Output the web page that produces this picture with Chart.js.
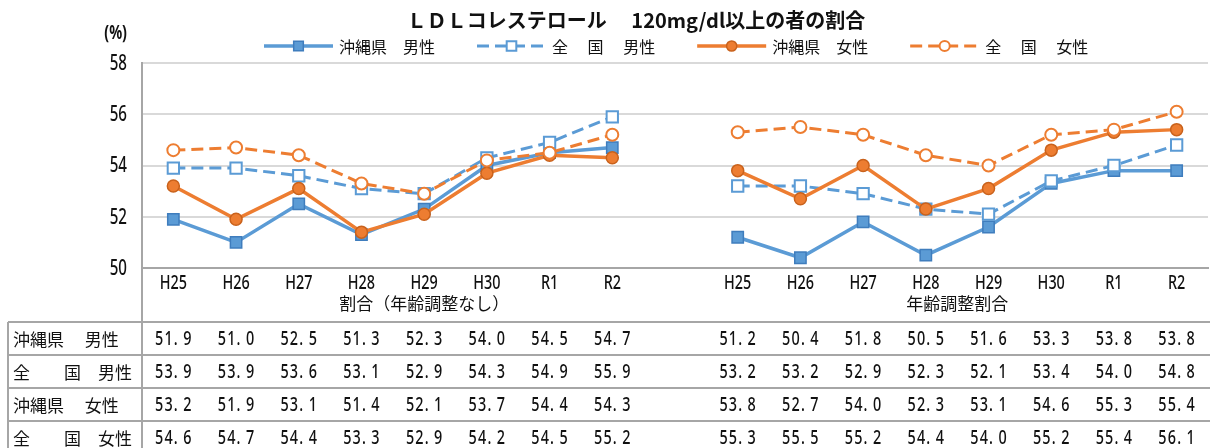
<!DOCTYPE html>
<html>
<head>
<meta charset="utf-8">
<script src="https://cdn.jsdelivr.net/npm/chart.js@4.4.0/dist/chart.umd.min.js"></script>
<style>
   html, body { margin: 0; padding: 0; background: #fff; overflow: hidden; }
   .wrapper { width: 1218px; height: 448px; }
</style>
</head>
<body>
<div class="wrapper"><canvas id="ldlChart" width="1218" height="448"></canvas></div>
<script>
const years = ['H25', 'H26', 'H27', 'H28', 'H29', 'H30', 'R1', 'R2'];
const groupNames = ['割合（年齢調整なし）', '年齢調整割合'];
const seriesNames = ['沖縄県　男性', '全　 国　 男性', '沖縄県　女性', '全　 国　 女性'];
const rowNames = ['沖縄県　 男性', '全　　国　男性', '沖縄県　 女性', '全　　国　女性'];
const titleText = 'ＬＤＬコレステロール　 120mg/dl以上の者の割合';
const yMin = 50, yMax = 58, yStep = 2;

// 割合（年齢調整なし）
const okiMaleCrude = [51.9, 51.0, 52.5, 51.3, 52.3, 54.0, 54.5, 54.7];
const natMaleCrude = [53.9, 53.9, 53.6, 53.1, 52.9, 54.3, 54.9, 55.9];
const okiFemaleCrude = [53.2, 51.9, 53.1, 51.4, 52.1, 53.7, 54.4, 54.3];
const natFemaleCrude = [54.6, 54.7, 54.4, 53.3, 52.9, 54.2, 54.5, 55.2];

// 年齢調整割合
const okiMaleAdj = [51.2, 50.4, 51.8, 50.5, 51.6, 53.3, 53.8, 53.8];
const natMaleAdj = [53.2, 53.2, 52.9, 52.3, 52.1, 53.4, 54.0, 54.8];
const okiFemaleAdj = [53.8, 52.7, 54.0, 52.3, 53.1, 54.6, 55.3, 55.4];
const natFemaleAdj = [55.3, 55.5, 55.2, 54.4, 54.0, 55.2, 55.4, 56.1];

const blue = '#5b9bd5', blueDark = '#3f7dbd',
   orange = '#ed7d31', orangeDark = '#c9621c',
   ink = '#111', rule = '#a6a6a6';
const numFont = '"Noto Sans", sans-serif';
const jpFont = '"Noto Sans CJK JP", sans-serif';
const squeeze = 0.72;   // digits are drawn condensed

// two blocks of years with one empty slot between them
let labels = years.concat([''], years);
let join = (a, b) => a.concat([null], b);

let datasets = [
   {
      label: seriesNames[0], data: join(okiMaleCrude, okiMaleAdj),
      borderColor: blue, borderWidth: 3.5, borderDash: [],
      pointStyle: 'rect', pointRadius: 8, pointBackgroundColor: blue,
      pointBorderColor: blueDark, pointBorderWidth: 1.5, order: 4
   },
   {
      label: seriesNames[1], data: join(natMaleCrude, natMaleAdj),
      borderColor: blue, borderWidth: 3, borderDash: [12, 6],
      pointStyle: 'rect', pointRadius: 8, pointBackgroundColor: '#fff',
      pointBorderColor: blue, pointBorderWidth: 2, order: 3
   },
   {
      label: seriesNames[2], data: join(okiFemaleCrude, okiFemaleAdj),
      borderColor: orange, borderWidth: 3.5, borderDash: [],
      pointStyle: 'circle', pointRadius: 6, pointBackgroundColor: orange,
      pointBorderColor: orangeDark, pointBorderWidth: 1.5, order: 2
   },
   {
      label: seriesNames[3], data: join(natFemaleCrude, natFemaleAdj),
      borderColor: orange, borderWidth: 3, borderDash: [12, 6],
      pointStyle: 'circle', pointRadius: 6, pointBackgroundColor: '#fff',
      pointBorderColor: orange, pointBorderWidth: 2, order: 1
   }
];
datasets.forEach(ds => {
   ds.fill = false;
   ds.tension = 0;
   ds.spanGaps = false;
   ds.pointHoverRadius = ds.pointRadius;
});

function marker(ctx, ds, cx, cy, scale) {
   let r = ds.pointRadius * scale;
   ctx.setLineDash([]);
   ctx.lineWidth = ds.pointBorderWidth;
   ctx.fillStyle = ds.pointBackgroundColor;
   ctx.strokeStyle = ds.pointBorderColor;
   ctx.beginPath();
   if (ds.pointStyle === 'rect') {
      let s = r * Math.SQRT1_2;
      ctx.rect(cx - s, cy - s, 2 * s, 2 * s);
   } else {
      ctx.arc(cx, cy, r, 0, Math.PI * 2);
   }
   ctx.fill();
   ctx.stroke();
}

function narrowText(ctx, str, x, y, align) {
   ctx.save();
   ctx.translate(x, y);
   ctx.scale(squeeze, 1);
   ctx.textAlign = align;
   ctx.fillText(str, 0, 0);
   ctx.restore();
}

// numbers in the table sit on a fixed pitch, like a half-width gothic face
function fixedText(ctx, str, cx, cy, pitch) {
   let x0 = cx - str.length * pitch / 2;
   for (let i = 0; i < str.length; i++) {
      narrowText(ctx, str[i], x0 + i * pitch + 0.5, cy, 'left');
   }
}

const decorations = {
   id: 'decorations',
   afterDraw(chart) {
      const ctx = chart.ctx,
         area = chart.chartArea,
         xs = chart.scales.x,
         ys = chart.scales.y,
         W = chart.width,
         H = chart.height;
      ctx.save();
      ctx.fillStyle = ink;
      ctx.textBaseline = 'middle';

      // title
      ctx.font = 'bold 20px ' + jpFont;
      ctx.textAlign = 'center';
      ctx.fillText(titleText, 636, 20);

      // axis tick labels
      ctx.font = '500 21px ' + numFont;
      ys.ticks.forEach((t, i) => {
         narrowText(ctx, String(t.value), area.left - 15, ys.getPixelForTick(i) + 1, 'right');
      });
      ctx.font = '500 20px ' + numFont;
      xs.ticks.forEach((t, i) => {
         let lab = labels[t.value];
         if (lab) narrowText(ctx, lab, xs.getPixelForTick(i), area.bottom + 15, 'center');
      });
      ctx.font = 'bold 20px ' + numFont;
      narrowText(ctx, '(%)', area.left - 15, 33, 'right');

      // legend: line sample with marker, then name
      let lx = 264, ly = 46;
      ctx.font = '16px ' + jpFont;
      chart.data.datasets.forEach(ds => {
         ctx.strokeStyle = ds.borderColor;
         ctx.lineWidth = ds.borderWidth;
         ctx.setLineDash(ds.borderDash);
         ctx.beginPath();
         ctx.moveTo(lx, ly);
         ctx.lineTo(lx + 69, ly);
         ctx.stroke();
         marker(ctx, ds, lx + 34.5, ly, 0.85);
         ctx.fillStyle = ink;
         ctx.textAlign = 'left';
         ctx.fillText(ds.label, lx + 75, ly + 1);
         lx += 75 + ctx.measureText(ds.label).width + 42;
      });

      // group captions under the year ticks
      ctx.font = '17px ' + jpFont;
      ctx.textAlign = 'center';
      let g1 = (xs.getPixelForValue(0) + xs.getPixelForValue(years.length)) / 2,
         g2 = (xs.getPixelForValue(years.length + 1) + xs.getPixelForValue(labels.length - 1)) / 2;
      ctx.fillText(groupNames[0], g1, area.bottom + 36);
      ctx.fillText(groupNames[1], g2, area.bottom + 36);

      // data table
      let top = area.bottom + 54, rowH = 33, left = 8;
      ctx.strokeStyle = rule;
      ctx.lineWidth = 2;
      ctx.setLineDash([]);
      ctx.beginPath();
      for (let r = 0; r < rowNames.length + 1; r++) {
         ctx.moveTo(left, top + r * rowH);
         ctx.lineTo(W, top + r * rowH);
      }
      ctx.moveTo(left, top);
      ctx.lineTo(left, H);
      ctx.moveTo(area.left, area.bottom);
      ctx.lineTo(area.left, H);
      ctx.stroke();

      chart.data.datasets.forEach((ds, r) => {
         let cy = top + r * rowH + rowH / 2 + 1;
         ctx.font = '17px ' + jpFont;
         ctx.textAlign = 'left';
         ctx.fillText(rowNames[r], left + 5, cy);
         ctx.font = '500 20px ' + numFont;
         ds.data.forEach((v, i) => {
            if (v === null) return;
            fixedText(ctx, v.toFixed(1), xs.getPixelForValue(i), cy, 9.4);
         });
      });
      ctx.restore();
   }
};

let ctx = document.getElementById('ldlChart');
new Chart(ctx, {
   type: 'line',
   data: { labels: labels, datasets: datasets },
   options: {
      responsive: false,
      animation: false,
      devicePixelRatio: 1,
      layout: { padding: { top: 63, left: 0, right: 0, bottom: 0 } },
      plugins: {
         legend: { display: false },
         title: { display: false },
         tooltip: { enabled: false }
      },
      scales: {
         x: {
            offset: true,
            grid: { display: false, drawTicks: false },
            border: { color: rule, width: 2 },
            ticks: { display: false, autoSkip: false, maxRotation: 0 },
            afterFit: s => { s.height = 180; }
         },
         y: {
            min: yMin, max: yMax,
            grid: { color: '#d9d9d9', lineWidth: 2, drawTicks: false },
            border: { color: rule, width: 2 },
            ticks: { display: false, stepSize: yStep },
            afterFit: s => { s.width = 142; }
         }
      }
   },
   plugins: [decorations]
});
</script>
</body>
</html>
